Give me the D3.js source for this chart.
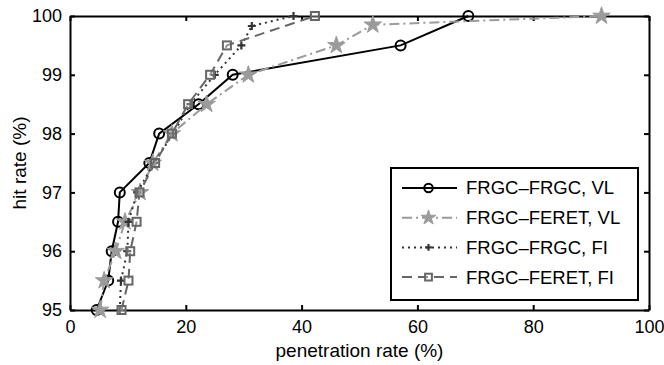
<!DOCTYPE html>
<html>
<head>
<meta charset="utf-8">
<script src="https://cdn.jsdelivr.net/npm/d3@7"></script>
<style>
  body { margin: 0; background: #fff; }
  svg text { font-family: "Liberation Sans", Arial, sans-serif; }
</style>
</head>
<body>
<div id="chart-container"></div>
<script>
// hit levels (y) and penetration rates (x) per curve
const vlFrgcY  = [95, 95.5, 96, 96.5, 97, 97.5, 98, 98.5, 99, 99.5, 100];
const vlFrgcX  = [4.6, 6.6, 7.2, 8.3, 8.6, 13.7, 15.4, 22.2, 28.1, 57.1, 68.8];

const vlFeretY = [95, 95.5, 96, 96.5, 97, 97.5, 98, 98.5, 99, 99.5, 99.85, 100];
const vlFeretX = [5.2, 5.9, 7.9, 9.5, 12.1, 14.3, 17.6, 23.6, 30.8, 46.0, 52.3, 91.8];

const fiFrgcY  = [95, 95.5, 96, 96.5, 97, 97.5, 98, 98.5, 99, 99.5, 99.83, 100];
const fiFrgcX  = [8.6, 8.8, 9.9, 10.1, 11.6, 14.5, 17.8, 20.8, 25.0, 29.6, 31.4, 38.6];

const fiFeretY = [95, 95.5, 96, 96.5, 97, 97.5, 98, 98.5, 99, 99.5, 100];
const fiFeretX = [8.9, 10.1, 10.4, 11.5, 12.0, 14.7, 17.6, 20.4, 24.2, 27.1, 42.3];

const xTicks = [0, 20, 40, 60, 80, 100];
const yTicks = [95, 96, 97, 98, 99, 100];

const seriesNames = ["FRGC\u2013FRGC, VL", "FRGC\u2013FERET, VL", "FRGC\u2013FRGC, FI", "FRGC\u2013FERET, FI"];

const series = [
    {name: seriesNames[0], xs: vlFrgcX,  ys: vlFrgcY,  color: "#000",    dash: null,       marker: "circle"},
    {name: seriesNames[1], xs: vlFeretX, ys: vlFeretY, color: "#9b9b9b", dash: "10,4,2,4", marker: "star"},
    {name: seriesNames[2], xs: fiFrgcX,  ys: fiFrgcY,  color: "#333",    dash: "2,4",      marker: "plus"},
    {name: seriesNames[3], xs: fiFeretX, ys: fiFeretY, color: "#666",    dash: "10,6",     marker: "square"}
];

const margin = {top: 16, right: 15, bottom: 55, left: 70},
    width = 664 - margin.left - margin.right,
    height = 365 - margin.top - margin.bottom;

const svg = d3.select("#chart-container")
    .append("svg")
    .attr("width", 664)
    .attr("height", 365)
    .append("g")
    .attr("transform", "translate(" + margin.left + "," + margin.top + ")");

const x = d3.scaleLinear().domain([0, 100]).range([0, width]);
const y = d3.scaleLinear().domain([95, 100]).range([height, 0]);

// axes, ticks pointing inward like matlab
svg.append("g")
    .attr("transform", `translate(0, ${height})`)
    .call(d3.axisBottom(x).tickValues(xTicks).tickFormat(d3.format("d")).tickSizeInner(-5).tickSizeOuter(0).tickPadding(10));
svg.append("g")
    .call(d3.axisTop(x).tickValues(xTicks).tickSizeInner(-5).tickSizeOuter(0).tickFormat(""));
svg.append("g")
    .call(d3.axisLeft(y).tickValues(yTicks).tickFormat(d3.format("d")).tickSizeInner(-5).tickSizeOuter(0).tickPadding(8));
svg.append("g")
    .attr("transform", `translate(${width}, 0)`)
    .call(d3.axisRight(y).tickValues(yTicks).tickSizeInner(-5).tickSizeOuter(0).tickFormat(""));

svg.selectAll(".domain").attr("stroke", "#000").attr("stroke-width", 2);
svg.selectAll(".tick line").attr("stroke", "#000").attr("stroke-width", 2);
svg.selectAll(".tick text").style("font-size", "18px").attr("fill", "#000");

svg.append("text")
    .attr("text-anchor", "middle")
    .attr("x", width / 2)
    .attr("y", height + 47)
    .text("penetration rate (%)")
    .style("font-size", "19px");

svg.append("text")
    .attr("text-anchor", "middle")
    .attr("transform", "rotate(-90)")
    .attr("x", -height / 2)
    .attr("y", -44)
    .text("hit rate (%)")
    .style("font-size", "19px");

function drawMarker(g, type, color, cx, cy, small) {
    const k = small ? 0.85 : 1;
    if (type === "circle") {
        g.append("circle").attr("cx", cx).attr("cy", cy).attr("r", 5 * k)
            .attr("fill", "none").attr("stroke", color).attr("stroke-width", 2);
    } else if (type === "star") {
        g.append("path").attr("d", d3.symbol(d3.symbolStar, 95 * k * k)())
            .attr("transform", `translate(${cx},${cy})`)
            .attr("fill", color).attr("stroke", color).attr("stroke-width", 1);
    } else if (type === "plus") {
        g.append("path")
            .attr("d", `M${cx - 4 * k},${cy}H${cx + 4 * k}M${cx},${cy - 4 * k}V${cy + 4 * k}`)
            .attr("stroke", color).attr("stroke-width", 2.2).attr("fill", "none");
    } else if (type === "square") {
        g.append("rect").attr("x", cx - 4 * k).attr("y", cy - 4 * k)
            .attr("width", 8 * k).attr("height", 8 * k)
            .attr("fill", "#fff").attr("fill-opacity", 0.3)
            .attr("stroke", color).attr("stroke-width", 2);
    }
}

const line = d3.line().x(d => x(d[0])).y(d => y(d[1]));

series.forEach(s => {
    const pts = s.xs.map((v, i) => [v, s.ys[i]]);
    const g = svg.append("g");
    g.append("path")
        .datum(pts)
        .attr("d", line)
        .attr("fill", "none")
        .attr("stroke", s.color)
        .attr("stroke-width", 2)
        .attr("stroke-dasharray", s.dash);
    pts.forEach(p => drawMarker(g, s.marker, s.color, x(p[0]), y(p[1]), false));
});

// legend
const lx = 391 - margin.left, ly = 168 - margin.top;
const legend = svg.append("g").attr("transform", `translate(${lx},${ly})`);
legend.append("rect")
    .attr("width", 247)
    .attr("height", 132)
    .attr("fill", "#fff")
    .attr("stroke", "#000")
    .attr("stroke-width", 2);

series.forEach((s, i) => {
    const ry = 20 + i * 29.7;
    legend.append("line")
        .attr("x1", 11).attr("x2", 66)
        .attr("y1", ry).attr("y2", ry)
        .attr("stroke", s.color)
        .attr("stroke-width", 2)
        .attr("stroke-dasharray", s.dash);
    drawMarker(legend, s.marker, s.color, 37.5, ry, true);
    legend.append("text")
        .attr("x", 75)
        .attr("y", ry)
        .attr("dy", "0.35em")
        .text(s.name)
        .style("font-size", "18.5px");
});
</script>
</body>
</html>
